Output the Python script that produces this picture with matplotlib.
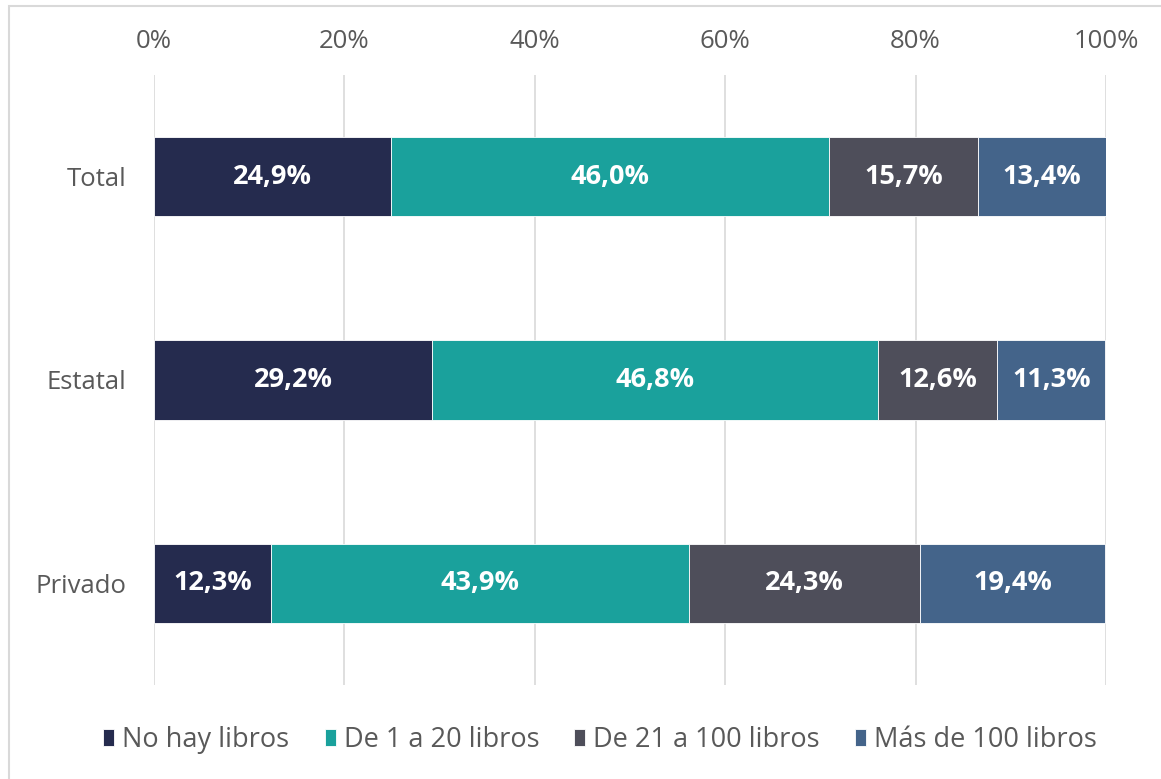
import numpy as np
import matplotlib.pyplot as plt
from matplotlib.patches import Rectangle
from matplotlib.ticker import FixedLocator

plt.rcParams['font.family'] = ['Open Sans', 'DejaVu Sans']

categories = ['Total', 'Estatal', 'Privado']
series = ['No hay libros', 'De 1 a 20 libros', 'De 21 a 100 libros', 'Más de 100 libros']
values = [
    [24.9, 29.2, 12.3],
    [46.0, 46.8, 43.9],
    [15.7, 12.6, 24.3],
    [13.4, 11.3, 19.4],
]
colors = ['#252b4e', '#1aa19c', '#4e4e5a', '#44648a']
xticks = [0, 20, 40, 60, 80, 100]

fig = plt.figure(figsize=(11.61, 7.79), dpi=100)
ax = fig.add_axes([154 / 1161, 1 - 685 / 779, (1106 - 154) / 1161, (685 - 75) / 779])

y = np.arange(len(categories))
left = np.zeros(len(categories))
for name, vals, col in zip(series, values, colors):
    vals = np.array(vals)
    ax.barh(y, vals, left=left, height=0.39, color=col, label=name,
            edgecolor='white', linewidth=0.6, zorder=3)
    for yi, l, v in zip(y, left, vals):
        ax.text(l + v / 2, yi, f'{v:.1f}%'.replace('.', ','), ha='center', va='center',
                color='white', fontsize=19.5, fontweight='bold', zorder=4)
    left += vals

ax.set_xlim(0, 100)
ax.set_ylim(len(categories) - 0.5, -0.5)
ax.xaxis.set_major_locator(FixedLocator(xticks))
ax.set_xticklabels([f'{t}%' for t in xticks])
ax.xaxis.tick_top()
ax.set_yticks(y)
ax.set_yticklabels(categories)
ax.tick_params(axis='both', length=0, labelsize=18.5, colors='#595959')
ax.tick_params(axis='x', pad=15)
ax.tick_params(axis='y', pad=20)
ax.grid(axis='x', color='#d9d9d9', linewidth=1.2, zorder=0)
for spine in ax.spines.values():
    spine.set_visible(False)

leg = fig.legend(loc='center', bbox_to_anchor=(0.517, 1 - 740 / 779), ncol=4, frameon=False,
                 fontsize=19.5, handlelength=0.4, handleheight=0.6, handletextpad=0.3,
                 columnspacing=1.3, labelcolor='#595959')

fig.patches.append(Rectangle((9 / 1161, -0.01), 1.02, 1 - 6 / 779 + 0.01, transform=fig.transFigure,
                             fill=False, edgecolor='#d9d9d9', linewidth=1.5))

fig.savefig('out.png', dpi=100)
